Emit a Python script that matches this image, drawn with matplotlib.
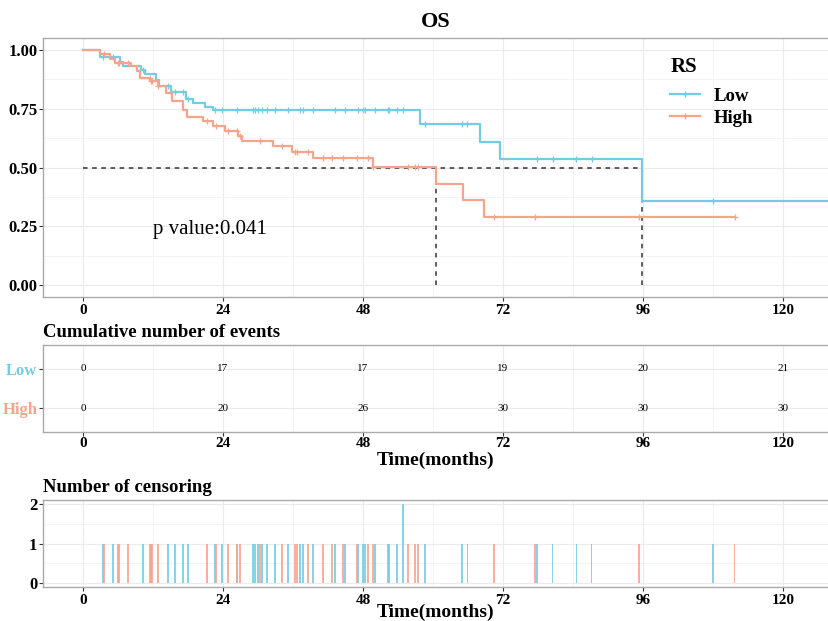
import matplotlib.pyplot as plt
import numpy as np
from matplotlib.lines import Line2D

plt.rcParams['font.family'] = ['Liberation Serif', 'DejaVu Serif']

# survival steps (time in months, survival after the step)
low_times = [0, 2.9, 6.3, 6.9, 10.0, 10.6, 12.5, 13.1, 15.1, 17.7, 18.9, 20.9, 22.3,
             57.8, 68.1, 71.5, 95.8, 130]
low_surv = [1.0, 0.97, 0.95, 0.93, 0.913, 0.898, 0.872, 0.845, 0.822, 0.79, 0.774, 0.757, 0.745,
            0.686, 0.61, 0.534, 0.357, 0.357]
high_times = [0, 2.9, 4.6, 5.5, 8.3, 9.2, 9.8, 11.5, 12.9, 14.3, 15.2, 17.2, 17.8, 20.6, 22.3,
              24.3, 26.6, 27.2, 32.6, 35.8, 39.5, 49.7, 60.6, 65.1, 68.7, 111.7]
high_surv = [1.0, 0.983, 0.96, 0.944, 0.93, 0.908, 0.88, 0.866, 0.845, 0.817, 0.781, 0.746, 0.715,
             0.696, 0.675, 0.657, 0.633, 0.612, 0.59, 0.566, 0.542, 0.503, 0.431, 0.361, 0.289, 0.289]

# censoring times
low_censor = [3.37, 5.09, 10.23, 14.63, 15.77, 17.2, 18.06, 22.63, 23.77, 26.34, 29.2, 29.49,
              30.06, 30.63, 31.49, 32.91, 35.2, 37.2, 37.77, 39.49, 43.2, 44.91, 47.2, 48.06,
              48.35, 50.06, 52.34, 52.52, 53.77, 54.92, 58.63, 65.0, 65.9, 77.8, 80.5, 84.6,
              87.2, 108.0]
low_censor_n = [1] * 29 + [2] + [1] * 8
high_censor = [3.6, 5.94, 6.11, 7.66, 11.49, 11.71, 11.89, 12.91, 21.2, 22.8, 24.91, 26.34,
               26.91, 30.34, 34.06, 36.34, 36.63, 38.63, 41.2, 42.63, 44.63, 46.92, 48.92,
               49.77, 55.77, 56.92, 57.49, 70.5, 77.5, 95.3, 111.7]
high_censor_n = [1] * len(high_censor)

# cumulative number of events table
table_times = [0, 24, 48, 72, 96, 120]
low_events = [0, 17, 17, 19, 20, 21]
high_events = [0, 20, 26, 30, 30, 30]

p_text = 'p value:0.041'
low_median = 95.8
high_median = 60.6

low_color = '#74CCE2'
high_color = '#F7A48D'
xticks = [0, 24, 48, 72, 96, 120]
xlim = (-6.86, 127.9)


def surv_at(times, surv, t):
    idx = np.searchsorted(times, t, side='right') - 1
    return np.array(surv)[idx]


def style(ax, xpad=2):
    for s in ax.spines.values():
        s.set_color('#AAAAAA')
        s.set_linewidth(1.0)
    ax.set_xlim(*xlim)
    ax.set_xticks(xticks)
    ax.set_xticks([12, 36, 60, 84, 108], minor=True)
    ax.grid(True, which='major', color='#EBEBEB', lw=0.8)
    ax.grid(True, which='minor', axis='x', color='#F3F3F3', lw=0.6)
    ax.tick_params(which='major', length=3, width=0.8, color='#333333')
    ax.tick_params(axis='x', labelsize=11, pad=xpad)
    ax.tick_params(axis='y', labelsize=12, pad=1)
    ax.tick_params(which='minor', length=0)
    ax.set_axisbelow(True)
    for lbl in ax.get_xticklabels() + ax.get_yticklabels():
        lbl.set_fontweight('bold')


fig = plt.figure(figsize=(8.29, 6.21), dpi=100)

# ---- main KM plot
ax = fig.add_axes([43 / 829, 1 - 297 / 621, 1 - 43 / 829, 259 / 621])
ax.set_ylim(-0.05, 1.05)
ax.set_yticks([0, 0.25, 0.5, 0.75, 1.0])
ax.set_yticklabels(['0.00', '0.25', '0.50', '0.75', '1.00'])
ax.set_yticks([0.125, 0.375, 0.625, 0.875], minor=True)
style(ax)
ax.grid(True, which='minor', axis='y', color='#F3F3F3', lw=0.6)

ax.plot([0, low_median], [0.5, 0.5], ls=(0, (3, 3)), color='#333333', lw=1.1)
ax.plot([high_median, high_median], [0, 0.5], ls=(0, (3, 3)), color='#333333', lw=1.1)
ax.plot([low_median, low_median], [0, 0.5], ls=(0, (3, 3)), color='#333333', lw=1.1)

ax.step(low_times, low_surv, where='post', color=low_color, lw=1.6)
ax.step(high_times, high_surv, where='post', color=high_color, lw=1.6)
ax.plot(low_censor, surv_at(low_times, low_surv, low_censor), ls='none', marker='+',
        ms=5, mew=0.9, color=low_color)
ax.plot(high_censor, surv_at(high_times, high_surv, high_censor), ls='none', marker='+',
        ms=5, mew=0.9, color=high_color)

ax.text(21.8, 0.235, p_text, fontsize=15, ha='center', va='center')
ax.set_title('OS', fontsize=16, fontweight='bold', pad=8)

handles = [Line2D([], [], color=low_color, lw=1.6, marker='+', ms=5),
           Line2D([], [], color=high_color, lw=1.6, marker='+', ms=5)]
leg = ax.legend(handles, ['Low', 'High'], title='RS', loc='upper left',
                bbox_to_anchor=(0.798, 0.928), frameon=False, handlelength=1.6,
                borderpad=0, borderaxespad=0, labelspacing=0.25, handletextpad=0.7,
                prop={'size': 13.5, 'weight': 'bold'},
                title_fontproperties={'size': 15, 'weight': 'bold'})
leg._legend_box.align = 'left'
leg._legend_box.sep = 8

# ---- cumulative events table
ax2 = fig.add_axes([43 / 829, 1 - 432 / 621, 1 - 43 / 829, 87 / 621])
ax2.set_ylim(0.4, 2.6)
ax2.set_yticks([1, 2])
ax2.set_yticklabels(['High', 'Low'])
style(ax2, xpad=0.5)
for lbl, c in zip(ax2.get_yticklabels(), [high_color, low_color]):
    lbl.set_color(c)
    lbl.set_fontsize(12)
for t, lo, hi in zip(table_times, low_events, high_events):
    ax2.text(t, 2, str(lo), ha='center', va='center', fontsize=8)
    ax2.text(t, 1, str(hi), ha='center', va='center', fontsize=8)
ax2.set_title('Cumulative number of events', fontsize=13.5, fontweight='bold', loc='left', pad=6)
ax2.set_xlabel('Time(months)', fontsize=14, fontweight='bold', labelpad=1)

# ---- censoring plot
ax3 = fig.add_axes([43 / 829, 1 - 587 / 621, 1 - 43 / 829, 87 / 621])
ax3.set_ylim(-0.1, 2.1)
ax3.set_yticks([0, 1, 2])
ax3.set_yticks([0.5, 1.5], minor=True)
style(ax3)
ax3.grid(True, which='minor', axis='y', color='#F3F3F3', lw=0.6)
ax3.bar(low_censor, low_censor_n, width=0.3, color=low_color, alpha=0.85)
ax3.bar(high_censor, high_censor_n, width=0.3, color=high_color, alpha=0.85)
ax3.set_title('Number of censoring', fontsize=13.5, fontweight='bold', loc='left', pad=6)
ax3.set_xlabel('Time(months)', fontsize=14, fontweight='bold', labelpad=-2)

fig.savefig('out.png', dpi=100)
